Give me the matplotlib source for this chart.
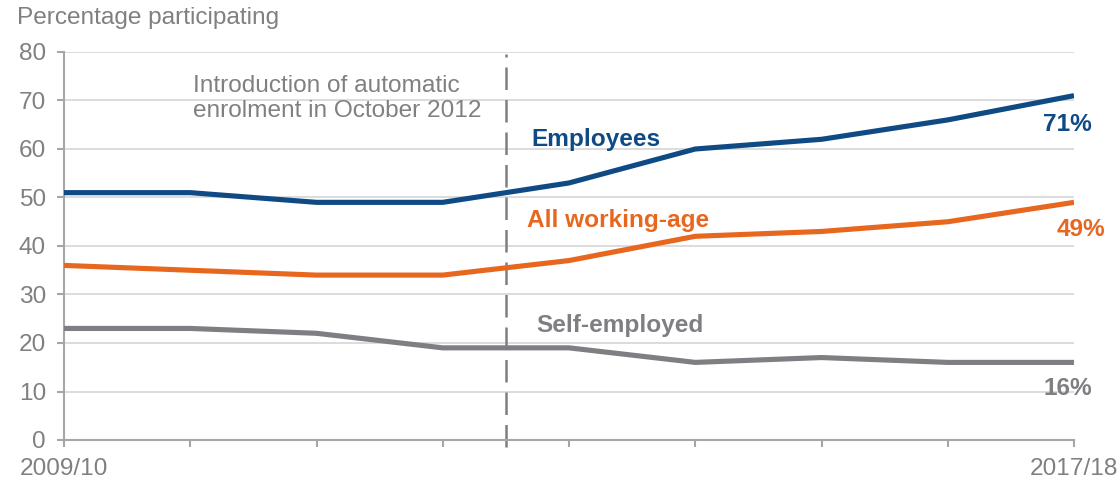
import matplotlib
matplotlib.use("Agg")
import matplotlib.pyplot as plt
import numpy as np

# data
years = ["2009/10", "2010/11", "2011/12", "2012/13", "2013/14",
         "2014/15", "2015/16", "2016/17", "2017/18"]
employees = [51, 51, 49, 49, 53, 60, 62, 66, 71]
all_working_age = [36, 35, 34, 34, 37, 42, 43, 45, 49]
self_employed = [23, 23, 22, 19, 19, 16, 17, 16, 16]

blue = "#0f4a85"
orange = "#e8671f"
grey = "#7f7f83"
txt = "#808080"
fs = 17.6

plt.rcParams['font.family'] = ['Liberation Sans', 'DejaVu Sans']

fig = plt.figure(figsize=(11.2, 4.87), dpi=100)
ax = fig.add_axes([64/1120, 1-440/487, 1010/1120, 388/487])

x = np.arange(len(years))
ax.plot(x, employees, color=blue, lw=3.7, solid_capstyle='butt', zorder=3)
ax.plot(x, all_working_age, color=orange, lw=3.7, solid_capstyle='butt', zorder=3)
ax.plot(x, self_employed, color=grey, lw=3.7, solid_capstyle='butt', zorder=3)

# automatic enrolment marker
ax.plot([3.5, 3.5], [-1.5, 79.5], color=grey, lw=1.8, dashes=(9, 4), zorder=2, clip_on=False)
ax.text(1.02, 70.4, "Introduction of automatic\nenrolment in October 2012",
        color=txt, fontsize=fs, ha='left', va='center', linespacing=1.2)

# series labels
ax.text(3.7, 62, "Employees", color=blue, fontsize=fs, fontweight='bold', va='center')
ax.text(3.67, 45.2, "All working-age", color=orange, fontsize=fs, fontweight='bold', va='center')
ax.text(3.74, 23.7, "Self-employed", color=grey, fontsize=fs, fontweight='bold', va='center')

ax.text(8.14, 65, f"{employees[-1]}%", color=blue, fontsize=fs, fontweight='bold', ha='right', va='center')
ax.text(8.25, 43.5, f"{all_working_age[-1]}%", color=orange, fontsize=fs, fontweight='bold', ha='right', va='center')
ax.text(8.14, 10.6, f"{self_employed[-1]}%", color=grey, fontsize=fs, fontweight='bold', ha='right', va='center')

ax.set_xlim(0, 8)
ax.set_ylim(0, 80)
ax.set_yticks(range(0, 81, 10))
ax.set_xticks(x)
ax.set_xticklabels([years[0]] + [""] * 7 + [years[-1]])

for s in ['top', 'right']:
    ax.spines[s].set_visible(False)
for s in ['left', 'bottom']:
    ax.spines[s].set_color("#a6a6a6")
    ax.spines[s].set_linewidth(1.5)

ax.yaxis.grid(True, color="#d9d9d9", lw=1.3)
ax.set_axisbelow(True)
ax.tick_params(axis='both', colors="#a6a6a6", labelcolor=txt, labelsize=fs,
               length=5, width=1.5, direction='out')
ax.tick_params(axis='y', pad=8)
ax.tick_params(axis='x', pad=8)

fig.text(17/1120, 1-18/487, "Percentage participating", color=txt, fontsize=fs,
         ha='left', va='center')

fig.savefig("out.png", dpi=100)
